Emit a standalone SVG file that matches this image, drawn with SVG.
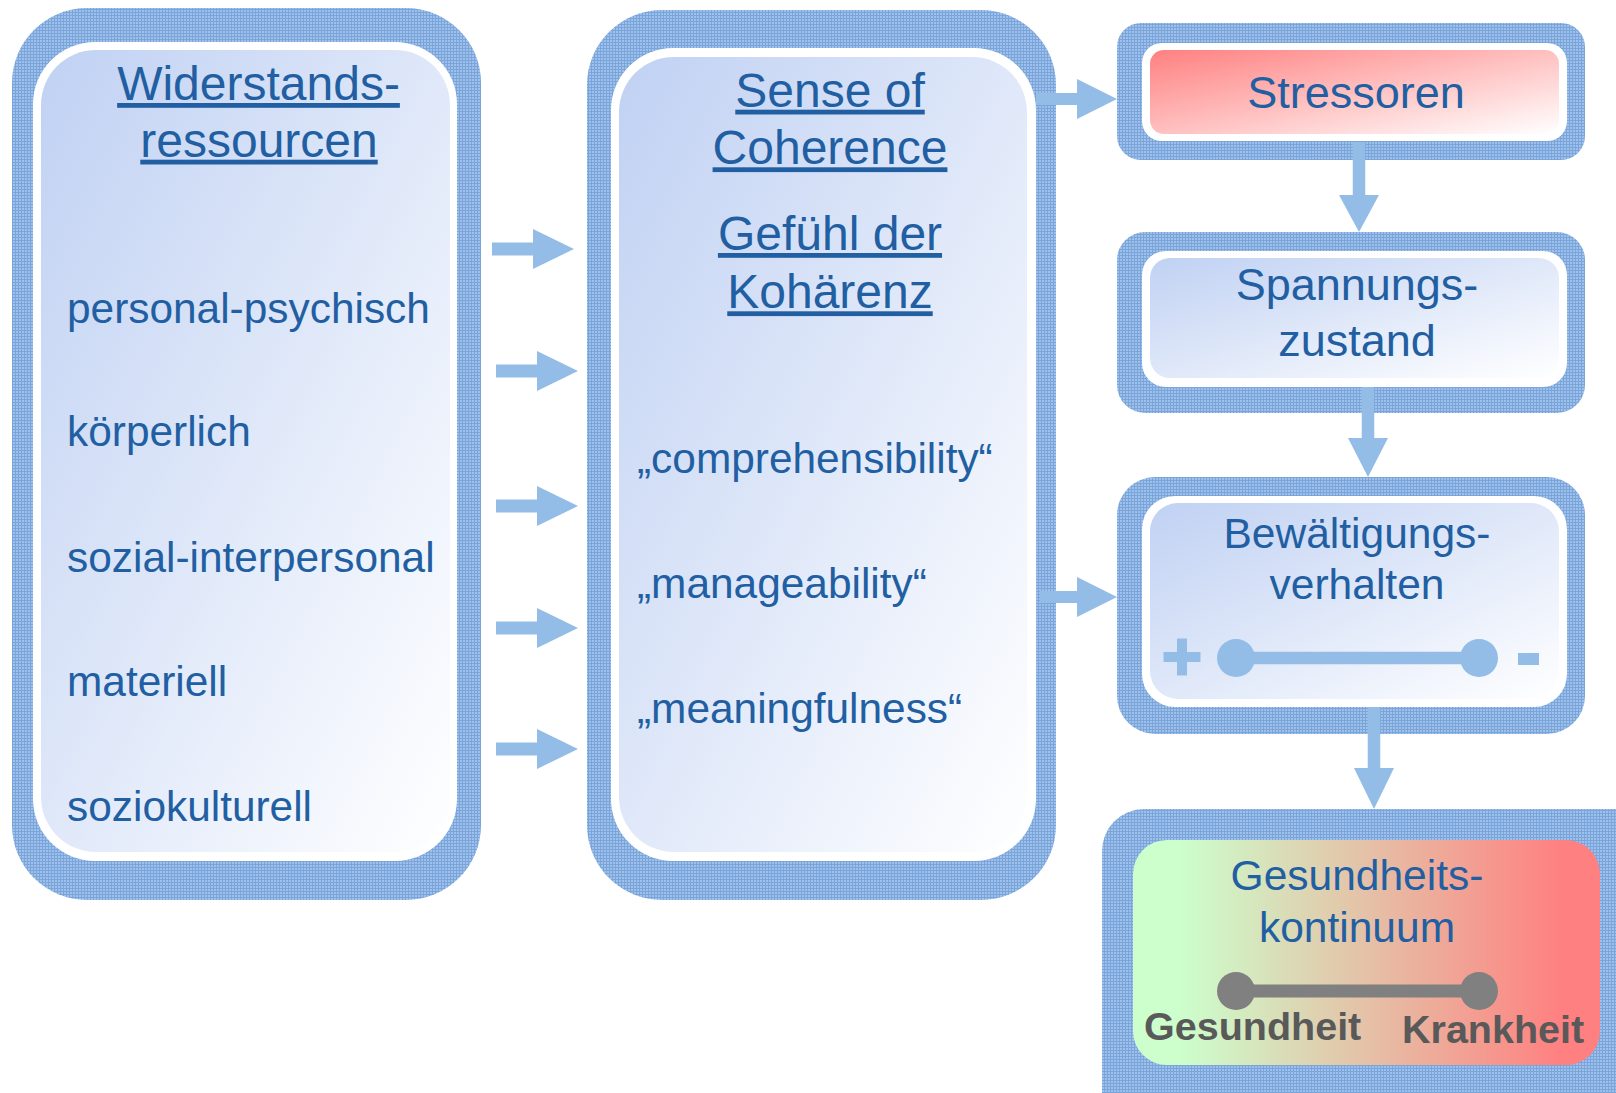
<svg xmlns="http://www.w3.org/2000/svg" width="1616" height="1093" viewBox="0 0 1616 1093">
<defs>
<pattern id="hatch" patternUnits="userSpaceOnUse" width="3" height="3">
<rect width="3" height="3" fill="#9EC0EA"/>
<rect width="3" height="1" fill="#79A5DB"/>
<rect width="1" height="3" fill="#79A5DB"/>
</pattern>
<linearGradient id="gBlue" x1="0" y1="0" x2="1" y2="1">
<stop offset="0" stop-color="#C0D1F3"/>
<stop offset="1" stop-color="#FFFFFF"/>
</linearGradient>
<linearGradient id="gRed" x1="0" y1="0" x2="1" y2="1">
<stop offset="0" stop-color="#FF8080"/>
<stop offset="1" stop-color="#FFFFFF"/>
</linearGradient>
<linearGradient id="gHealth" x1="0" y1="0" x2="1" y2="0">
<stop offset="0.1" stop-color="#CCFFCC"/>
<stop offset="0.92" stop-color="#FF8080"/>
</linearGradient>
<style>
.outer{fill:url(#hatch)}
.ring{fill:#FFFFFF}
.inner{fill:url(#gBlue)}
.t{font-family:"Liberation Sans",Arial,sans-serif;fill:#215FA2}
.title{font-size:48px;text-anchor:middle;text-decoration:underline}
.item{font-size:42.4px}
.box{font-size:45px;text-anchor:middle}
.box2{font-size:42.5px;text-anchor:middle}
.arrow{fill:#93BDE7}
.gray{font-family:"Liberation Sans",Arial,sans-serif;font-weight:bold;font-size:39.5px;fill:#595959}
</style>
</defs>
<rect width="1616" height="1093" fill="#FFFFFF"/>

<g id="widerstandsressourcen">
<rect class="outer" x="12" y="8" width="469" height="892" rx="75"/>
<rect class="ring" x="33" y="42" width="424" height="819" rx="62"/>
<rect class="inner" x="41" y="50" width="409" height="802" rx="55"/>
<text class="t title" x="258.5" y="100">Widerstands-</text>
<text class="t title" x="259" y="156.7">ressourcen</text>
<text class="t item" x="67" y="322.6">personal-psychisch</text>
<text class="t item" x="67" y="446">körperlich</text>
<text class="t item" x="67" y="572">sozial-interpersonal</text>
<text class="t item" x="67" y="695.6">materiell</text>
<text class="t item" x="67" y="821">soziokulturell</text>
</g>

<g id="sense-of-coherence">
<rect class="outer" x="587" y="10" width="469" height="890" rx="75"/>
<rect class="ring" x="611" y="48" width="425" height="813" rx="62"/>
<rect class="inner" x="619" y="57" width="408" height="795" rx="55"/>
<text class="t title" x="830" y="106.7">Sense of</text>
<text class="t title" x="830" y="164.3">Coherence</text>
<text class="t title" x="830" y="250">Gefühl der</text>
<text class="t title" x="830" y="308.3">Kohärenz</text>
<text class="t item" x="637" y="473">„comprehensibility“</text>
<text class="t item" x="637" y="598">„manageability“</text>
<text class="t item" x="637" y="723">„meaningfulness“</text>
</g>

<g id="stressoren">
<rect class="outer" x="1117" y="23" width="468" height="137" rx="24"/>
<rect class="ring" x="1142" y="43" width="425" height="98" rx="20"/>
<rect x="1150" y="50" width="409" height="84" rx="14" fill="url(#gRed)"/>
<text class="t box" x="1356" y="108.3">Stressoren</text>
</g>

<g id="spannungszustand">
<rect class="outer" x="1117" y="232" width="468" height="181" rx="28"/>
<rect class="ring" x="1142" y="251" width="425" height="136" rx="24"/>
<rect class="inner" x="1150" y="258" width="409" height="120" rx="20"/>
<text class="t box" x="1357" y="300">Spannungs-</text>
<text class="t box" x="1357" y="355.5">zustand</text>
</g>

<g id="bewaeltigungsverhalten">
<rect class="outer" x="1117" y="477" width="468" height="257" rx="38"/>
<rect class="ring" x="1142" y="496" width="425" height="211" rx="33"/>
<rect class="inner" x="1150" y="503" width="409" height="196" rx="28"/>
<text class="t box2" x="1357" y="548">Bewältigungs-</text>
<text class="t box2" x="1357" y="599">verhalten</text>
<line x1="1236" y1="658" x2="1479" y2="658" stroke="#93BDE7" stroke-width="12.5"/>
<circle class="arrow" cx="1236" cy="658" r="19"/>
<circle class="arrow" cx="1479" cy="658" r="19"/>
<rect class="arrow" x="1163.5" y="652" width="37" height="10"/>
<rect class="arrow" x="1177" y="638.5" width="10" height="37"/>
<rect class="arrow" x="1518" y="653" width="21" height="12"/>
</g>

<g id="gesundheitskontinuum">
<rect class="outer" x="1102" y="809" width="560" height="330" rx="42"/>
<rect x="1133" y="840" width="467" height="225" rx="34" fill="url(#gHealth)"/>
<text class="t box2" x="1357" y="890">Gesundheits-</text>
<text class="t box2" x="1357" y="941.7">kontinuum</text>
<line x1="1236" y1="991" x2="1479" y2="991" stroke="#808080" stroke-width="13"/>
<circle cx="1236" cy="991" r="19" fill="#808080"/>
<circle cx="1479" cy="991" r="19" fill="#808080"/>
<text class="gray" x="1144" y="1040">Gesundheit</text>
<text class="gray" x="1402" y="1043">Krankheit</text>
</g>

<g id="connectors">
<polygon class="arrow" points="492,242.5 533,242.5 533,229 574,249 533,269 533,255.5 492,255.5"/>
<polygon class="arrow" points="496,364.5 537,364.5 537,351 578,371 537,391 537,377.5 496,377.5"/>
<polygon class="arrow" points="496,499.5 537,499.5 537,486 578,506 537,526 537,512.5 496,512.5"/>
<polygon class="arrow" points="496,621.5 537,621.5 537,608 578,628 537,648 537,634.5 496,634.5"/>
<polygon class="arrow" points="496,742.5 537,742.5 537,729 578,749 537,769 537,755.5 496,755.5"/>
<polygon class="arrow" points="1036,93 1077,93 1077,79 1117,99 1077,119 1077,105 1036,105"/>
<polygon class="arrow" points="1040,591 1077,591 1077,577 1117,597 1077,617 1077,603 1040,603"/>
<polygon class="arrow" points="1352.75,142 1365.25,142 1365.25,195 1379,195 1359,232 1339,195 1352.75,195"/>
<polygon class="arrow" points="1361.75,387 1374.25,387 1374.25,438 1388,438 1368,477 1348,438 1361.75,438"/>
<polygon class="arrow" points="1367.75,707 1380.25,707 1380.25,768 1394,768 1374,809 1354,768 1367.75,768"/>
</g>
</svg>
